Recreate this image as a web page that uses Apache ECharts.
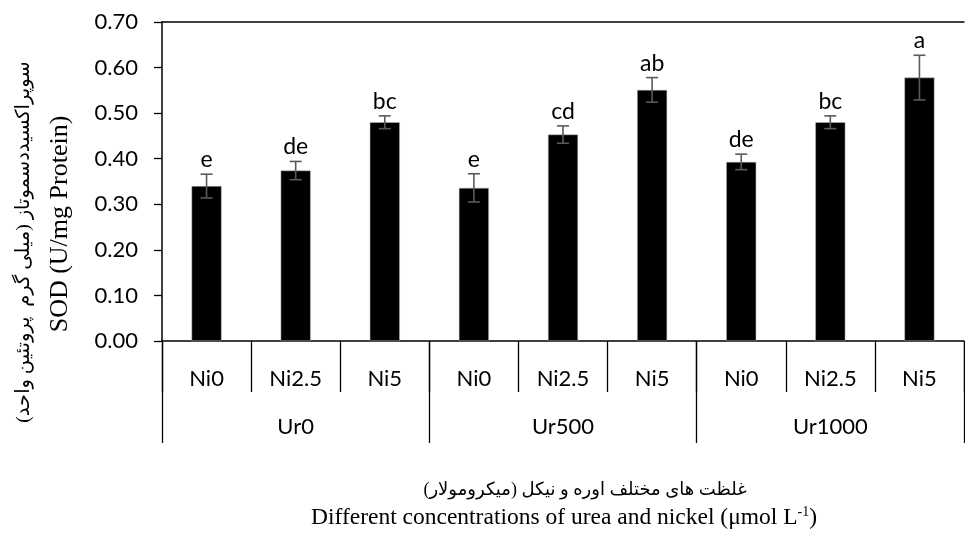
<!DOCTYPE html>
<html><head><meta charset="utf-8">
<script src="https://cdn.jsdelivr.net/npm/echarts@6/dist/echarts.min.js"></script>
<style>html,body{margin:0;padding:0;background:#fff}#c{width:965px;height:538px}</style>
</head><body><div id="c"></div>
<script>
const niLabels = ['Ni0','Ni2.5','Ni5','Ni0','Ni2.5','Ni5','Ni0','Ni2.5','Ni5'];
const urLabels = ['Ur0','Ur500','Ur1000'];
const sodMeans = [0.340,0.374,0.480,0.336,0.453,0.551,0.393,0.480,0.578];
const sodErrors = [0.026,0.020,0.014,0.031,0.019,0.027,0.017,0.014,0.049];
const letters = ['e','de','bc','e','cd','ab','de','bc','a'];
const yTitleFa = 'سوپراکسیددسموتاز (میلی گرم  پروتئین واحد)';
const yTitleEn = 'SOD (U/mg Protein)';
const xTitleFa = 'غلظت های مختلف اوره و نیکل (میکرومولار)';

const chart = echarts.init(document.getElementById('c'), null, {renderer:'canvas'});
const lblFont = 'Lato';
const lblSize = 22;
const option = {
  animation:false,
  backgroundColor:'#fff',
  grid:{left:162, right:1, top:22, bottom:197, containLabel:false},
  xAxis:[
    {type:'category', data:niLabels, position:'bottom',
     axisLine:{show:true, lineStyle:{color:'#000', width:1.5}},
     axisTick:{show:true, interval:0, alignWithLabel:false, length:51, lineStyle:{color:'#000', width:1.3}},
     axisLabel:{interval:0, margin:27, fontFamily:lblFont, fontSize:lblSize, color:'#000'}},
    {type:'category', data:urLabels, position:'bottom',
     axisLine:{show:false},
     axisTick:{show:true, interval:0, alignWithLabel:false, length:102, lineStyle:{color:'#000', width:1.3}},
     axisLabel:{interval:0, margin:75, fontFamily:lblFont, fontSize:lblSize, color:'#000'}},
    {type:'category', data:niLabels, position:'top',
     axisLine:{show:true, lineStyle:{color:'#000', width:1.5}},
     axisTick:{show:false}, axisLabel:{show:false}}
  ],
  yAxis:{type:'value', min:0, max:0.7, interval:0.1,
    axisLine:{show:true, lineStyle:{color:'#000', width:1.5}},
    axisTick:{show:true, inside:false, length:8, lineStyle:{color:'#000', width:1.3}},
    splitLine:{show:false},
    axisLabel:{margin:24, fontFamily:lblFont, fontSize:lblSize, color:'#000', formatter:v=>v.toFixed(2)}},
  series:[
    {type:'bar', xAxisIndex:0, data:sodMeans, barWidth:30,
     itemStyle:{color:'#000', borderColor:'#bbb', borderWidth:0.5}},
    {type:'custom', xAxisIndex:0, data:sodMeans.map((m,i)=>[i,m,sodErrors[i]]), z:5,
     renderItem:function(params, api){
       const i=api.value(0), m=api.value(1), e=api.value(2);
       const top=api.coord([i,m+e]), bot=api.coord([i,m-e]);
       const hw=6; const st={stroke:'#5a5a5a', lineWidth:1.6};
       return {type:'group', children:[
         {type:'line', shape:{x1:top[0],y1:top[1],x2:bot[0],y2:bot[1]}, style:st},
         {type:'line', shape:{x1:top[0]-hw,y1:top[1],x2:top[0]+hw,y2:top[1]}, style:st},
         {type:'line', shape:{x1:bot[0]-hw,y1:bot[1],x2:bot[0]+hw,y2:bot[1]}, style:st},
         {type:'text', x:top[0], y:top[1]-3, style:{text:letters[params.dataIndex], textAlign:'center', textVerticalAlign:'bottom', font:'23px Lato', fill:'#000'}}
       ]};
     }}
  ],
  graphic:[
    {type:'text', x:24, y:242, rotation:Math.PI/2, style:{text:yTitleFa, font:'19.5px "Liberation Serif", "DejaVu Sans"', textAlign:'center', textVerticalAlign:'middle', fill:'#000'}},
    {type:'text', x:60, y:224, rotation:Math.PI/2, style:{text:yTitleEn, font:'26px "Liberation Serif"', textAlign:'center', textVerticalAlign:'middle', fill:'#000'}},
    {type:'text', x:585, y:490, style:{text:xTitleFa, font:'18px "Liberation Serif", "DejaVu Sans"', textAlign:'center', textVerticalAlign:'middle', fill:'#000'}},
    {type:'text', x:564, y:518, style:{
      rich:{n:{font:'23.5px "Liberation Serif"', fill:'#000'}, s:{font:'14px "Liberation Serif"', fill:'#000', verticalAlign:'top', padding:[0,0,11,0]}},
      text:'{n|Different concentrations of urea and nickel (μmol L}{s|-1}{n|)}', textAlign:'center', textVerticalAlign:'middle'}}
  ]
};
chart.setOption(option);
</script></body></html>
